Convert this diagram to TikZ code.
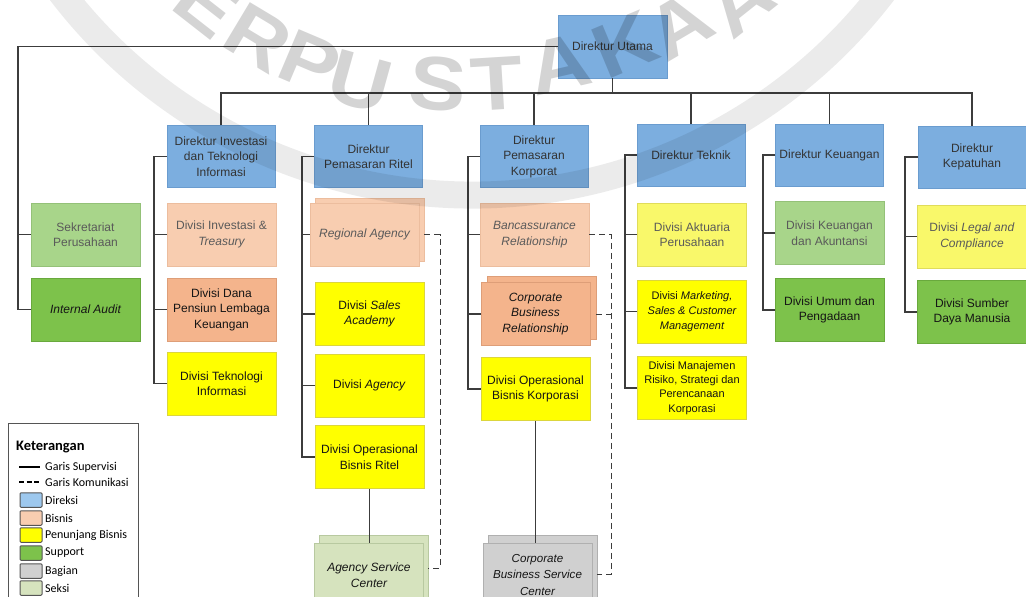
\documentclass[tikz,border=0pt]{standalone}
\usepackage{fontspec}
\setmainfont{Liberation Sans}
\newfontfamily\legfont{Carlito}
\usetikzlibrary{calc}
\definecolor{dirfill}{HTML}{7CAEDF}
\definecolor{dirdraw}{HTML}{6A9CCF}
\definecolor{dirtext}{HTML}{333333}
\definecolor{bisl}{HTML}{F8CDB0}
\definecolor{bisldraw}{HTML}{ECBD9E}
\definecolor{bisd}{HTML}{F4B48C}
\definecolor{bisddraw}{HTML}{DE9E78}
\definecolor{yel}{HTML}{FFFF00}
\definecolor{yeldraw}{HTML}{DCD63C}
\definecolor{yell}{HTML}{F9F86A}
\definecolor{yelldraw}{HTML}{E0DC5A}
\definecolor{grl}{HTML}{A8D58A}
\definecolor{grldraw}{HTML}{94C178}
\definecolor{grd}{HTML}{7DC24B}
\definecolor{grddraw}{HTML}{69A93D}
\definecolor{gry}{HTML}{D0D0D0}
\definecolor{grydraw}{HTML}{B0B0B0}
\definecolor{sek}{HTML}{D6E3BE}
\definecolor{sekdraw}{HTML}{B8C9A0}
\definecolor{txtl}{HTML}{5A5A5A}
\definecolor{txtd}{HTML}{151515}
\definecolor{linec}{HTML}{3C3C3C}
\definecolor{legdraw}{HTML}{555555}
\definecolor{legblue}{HTML}{9DC8EE}
\begin{document}
\begin{tikzpicture}[x=1pt,y=-1pt,
  box/.style={rectangle, minimum width=109pt, minimum height=63pt, inner sep=1pt,
    align=center, line width=0.8pt, font=\fontsize{12}{15.5}\selectfont},
  dir/.style={box, fill=dirfill, draw=dirdraw, text=dirtext, minimum width=108pt, minimum height=62pt},
  bisbox/.style={box, fill=bisl, draw=bisldraw, text=txtl},
  bisdbox/.style={box, fill=bisd, draw=bisddraw, text=txtd},
  yelbox/.style={box, fill=yel, draw=yeldraw, text=txtd},
  yellbox/.style={box, fill=yell, draw=yelldraw, text=txtl},
  grlbox/.style={box, fill=grl, draw=grldraw, text=txtl},
  grdbox/.style={box, fill=grd, draw=grddraw, text=txtd},
  grybox/.style={box, fill=gry, draw=grydraw, text=txtd},
  sekbox/.style={box, fill=sek, draw=sekdraw, text=txtd},
  sup/.style={draw=linec, line width=1.1pt},
  comm/.style={draw=linec, line width=1pt, dash pattern=on 6pt off 4pt},
  swatch/.style={rectangle, draw=legdraw, line width=1pt, minimum width=22pt, minimum height=14.5pt, rounded corners=1pt, inner sep=0pt},
  legtxt/.style={anchor=west, inner sep=0pt, font=\legfont\fontsize{12}{12}\selectfont, text=black},
  wm/.style={inner sep=0pt, text=black, text opacity=0.17, font=\fontsize{76}{76}\selectfont\bfseries}
]
\useasboundingbox (0,0) rectangle (1026,597);
\clip (0,0) rectangle (1026,597);
\fill[white] (0,0) rectangle (1026,597);

% directors
\node[dir, minimum width=109pt, minimum height=63pt] (utama) at (612.5,46.5) {Direktur Utama};
\node[dir] (dinv) at (221,156.5) {Direktur Investasi\\dan Teknologi\\Informasi};
\node[dir] (drit) at (368.5,156.5) {Direktur\\Pemasaran Ritel};
\node[dir] (dkor) at (534,156.5) {Direktur\\Pemasaran\\Korporat};
\node[dir] (dtek) at (691,155) {Direktur Teknik};
\node[dir] (dkeu) at (829.5,155) {Direktur Keuangan};
\node[dir] (dkep) at (972,157) {Direktur\\Kepatuhan};

% staff units
\node[grlbox] (sekr) at (85.5,234.5) {Sekretariat\\Perusahaan};
\node[grdbox] (audit) at (85.5,309.5) {\itshape Internal Audit};

% investasi column
\node[bisbox] (inv1) at (221.5,234.5) {Divisi Investasi \&\\\itshape Treasury};
\node[bisdbox] (dana) at (221.5,309.5) {Divisi Dana\\Pensiun Lembaga\\Keuangan};
\node[yelbox] (ti) at (221.5,383.5) {Divisi Teknologi\\Informasi};

% ritel column
\node[bisbox] (regback) at (369.5,230) {};
\node[bisbox] (regional) at (364.5,234.5) {\itshape Regional Agency};
\node[yelbox] (sales) at (369.5,314) {Divisi \textit{Sales}\\\itshape Academy};
\node[yelbox] (agency) at (369.5,385.5) {Divisi \textit{Agency}};
\node[yelbox] (opsrit) at (369.5,457) {Divisi Operasional\\Bisnis Ritel};
\node[sekbox] (ascback) at (373.5,567) {};
\node[sekbox] (asc) at (369,575) {\itshape Agency Service\\\itshape Center};

% korporat column
\node[bisbox] (banc) at (534.5,234.5) {\itshape Bancassurance\\\itshape Relationship};
\node[bisdbox] (cbrback) at (541.5,307.5) {};
\node[bisdbox] (cbr) at (535.5,314) {\itshape Corporate\\\itshape Business\\\itshape Relationship};
\node[yelbox] (opskor) at (535.5,389) {Divisi Operasional\\Bisnis Korporasi};
\node[grybox] (cbscback) at (542.5,567) {};
\node[grybox, font=\fontsize{11.6}{16.5}\selectfont] (cbsc) at (537.5,575) {\itshape Corporate\\\itshape Business Service\\\itshape Center};

% teknik column
\node[yellbox] (akt) at (692,234.5) {Divisi Aktuaria\\Perusahaan};
\node[yelbox, font=\fontsize{11}{15}\selectfont] (mkt) at (692,311.5) {Divisi \textit{Marketing,}\\\itshape Sales \& Customer\\\itshape Management};
\node[yelbox, font=\fontsize{11}{14.3}\selectfont] (mnj) at (692,388) {Divisi Manajemen\\Risiko, Strategi dan\\Perencanaan\\Korporasi};

% keuangan column
\node[grlbox] (keu1) at (829.5,233) {Divisi Keuangan\\dan Akuntansi};
\node[grdbox] (umum) at (829.5,310) {Divisi Umum dan\\Pengadaan};

% kepatuhan column
\node[yellbox] (legal) at (972,236.5) {Divisi \textit{Legal and}\\\itshape Compliance};
\node[grdbox] (sdm) at (972,312) {Divisi Sumber\\Daya Manusia};

% helper coordinates
\coordinate (bus) at (0,93);
\coordinate (tL) at (18,0);
\coordinate (tInv) at (154,0);
\coordinate (tRit) at (302,0);
\coordinate (tKor) at (468,0);
\coordinate (tTek) at (625,0);
\coordinate (tKeu) at (763,0);
\coordinate (tKep) at (905,0);
\coordinate (rd) at (440,0);
\coordinate (kd) at (611,0);
\coordinate (ascd) at (0,568);
\coordinate (cbscd) at (0,574);

% supervision lines
\draw[sup] (utama.west) -| (tL |- audit.west) -- (audit.west);
\draw[sup] (sekr.west) -- (sekr.west -| tL);
\draw[sup] (dinv.north) -- (dinv.north |- bus) -- (dkep.north |- bus) -- (dkep.north);
\draw[sup] (utama.south) -- (utama.south |- bus);
\foreach \d in {drit,dkor,dtek,dkeu} \draw[sup] (\d.north) -- (\d.north |- bus);

\draw[sup] (dinv.west) -| (tInv |- ti.west) -- (ti.west);
\foreach \c in {inv1,dana} \draw[sup] (\c.west) -- (\c.west -| tInv);

\draw[sup] (drit.west) -| (tRit |- opsrit.west) -- (opsrit.west);
\foreach \c in {regional,sales,agency} \draw[sup] (\c.west) -- (\c.west -| tRit);
\draw[sup] (opsrit.south) -- (opsrit.south |- asc.north);

\draw[sup] (dkor.west) -| (tKor |- opskor.west) -- (opskor.west);
\foreach \c in {banc,cbr} \draw[sup] (\c.west) -- (\c.west -| tKor);
\draw[sup] (opskor.south) -- (opskor.south |- cbsc.north);

\draw[sup] (dtek.west) -| (tTek |- mnj.west) -- (mnj.west);
\foreach \c in {akt,mkt} \draw[sup] (\c.west) -- (\c.west -| tTek);

\draw[sup] (dkeu.west) -| (tKeu |- umum.west) -- (umum.west);
\draw[sup] (keu1.west) -- (keu1.west -| tKeu);

\draw[sup] (dkep.west) -| (tKep |- sdm.west) -- (sdm.west);
\draw[sup] (legal.west) -- (legal.west -| tKep);

% communication lines
\draw[comm] (regback.east |- regional.east) -- (regional.east -| rd) -- (rd |- ascd) -- (ascback.east |- ascd);
\draw[comm] (banc.east) -- (banc.east -| kd) -- (kd |- cbscd) -- (cbscback.east |- cbscd);
\draw[comm] (cbrback.east |- cbr.east) -- (cbr.east -| kd);

% legend
\node[draw=legdraw, fill=white, line width=1pt, minimum width=130pt, minimum height=185pt, anchor=north west, inner sep=0pt] (leg) at (8,423) {};
\node[anchor=west, inner sep=0pt, font=\legfont\bfseries\fontsize{14.5}{14.5}\selectfont] (legt) at (16,447) {Keterangan};
\draw[line width=1.6pt] (19,467) -- (40,467);
\draw[line width=1.6pt, dash pattern=on 5pt off 2.6pt] (19,482) -- (41,482);
\node[legtxt] (l1) at (45,467) {Garis Supervisi};
\node[legtxt] (l2) at (45,482) {Garis Komunikasi};
\node[swatch, fill=legblue] (s3) at (31,500) {};
\node[legtxt] (l3) at (45,500) {Direksi};
\node[swatch, fill=bisl] (s4) at (31,518) {};
\node[legtxt] (l4) at (45,518) {Bisnis};
\node[swatch, fill=yel] (s5) at (31,535) {};
\node[legtxt] (l5) at (45,535) {Penunjang Bisnis};
\node[swatch, fill=grd] (s6) at (31,553) {};
\node[legtxt] (l6) at (45,553) {Support};
\node[swatch, fill=gry] (s7) at (31,571) {};
\node[legtxt] (l7) at (45,571) {Bagian};
\node[swatch, fill=sek] (s8) at (31,588) {};
\node[legtxt] (l8) at (45,588) {Seksi};

% watermark
\draw[line width=27pt, black, draw opacity=0.08] (32.7,-48.5) arc[start angle=212, end angle=328, radius=518pt];
\foreach \ch/\px/\py/\r [count=\i] in {E/207/4/-38, R/258/38/-31, P/310/63/-23, U/360/82/-15.5, S/438/84/-5, T/497/84/3.5, A/560/64/13, K/625/45/22.6, A/680/25/30.5, A/740/2/38.5}
  \node[wm, rotate=\r, xscale=1.12] (wm\i) at (\px,\py) {\ch};
\end{tikzpicture}
\end{document}
